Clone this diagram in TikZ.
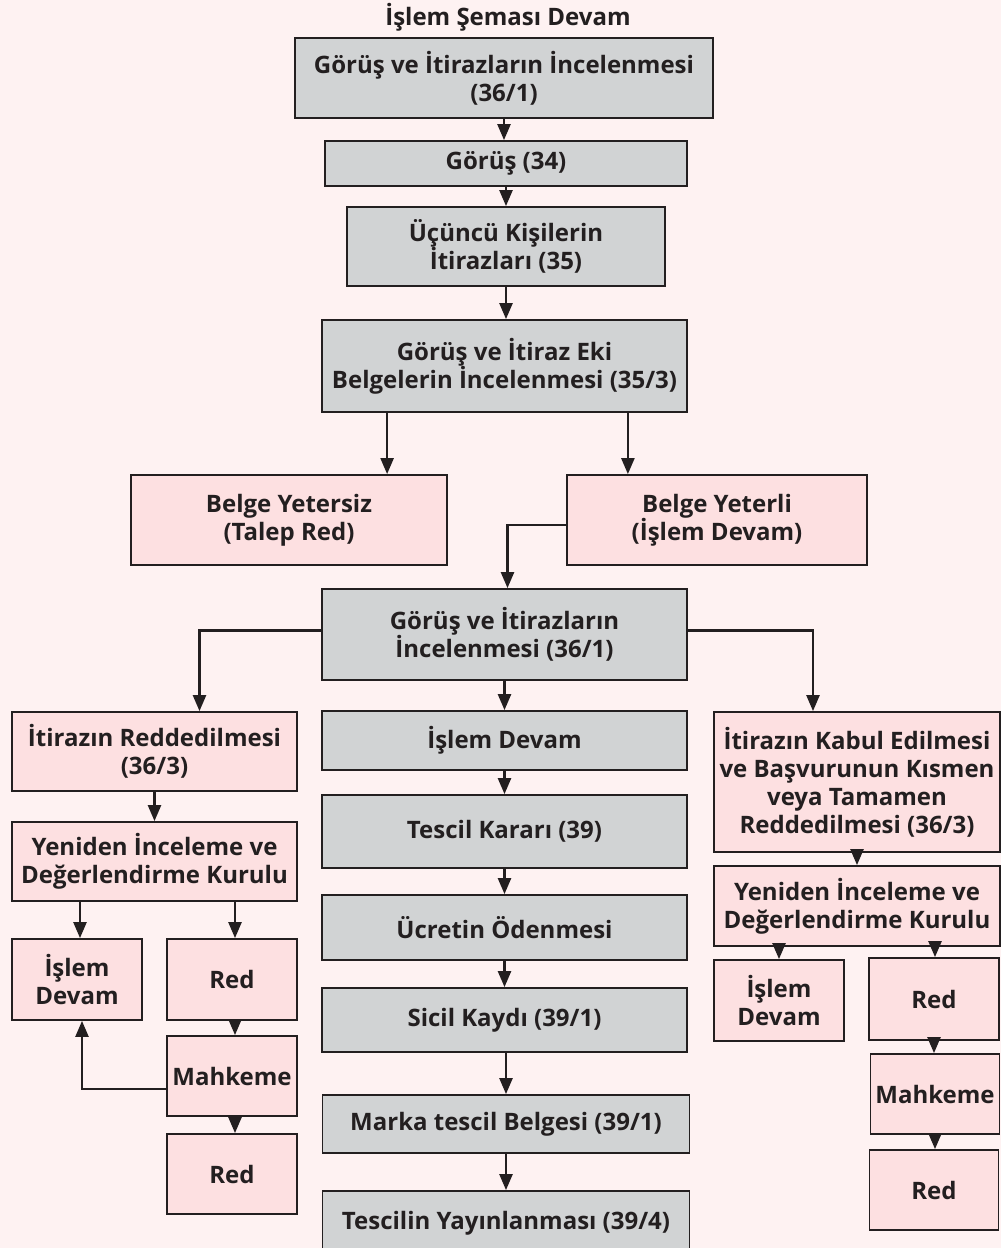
\documentclass[tikz,border=0pt]{standalone}
\usepackage{fontspec}
\setmainfont{Open Sans}
\usepackage{xcolor}
\usetikzlibrary{positioning,arrows.meta}

\definecolor{pagebg}{HTML}{FEF2F2}
\definecolor{boxgray}{HTML}{D1D3D4}
\definecolor{boxpink}{HTML}{FDE0E1}
\definecolor{inkdark}{HTML}{231F20}

\tikzset{
  flowbox/.style={draw=inkdark, line width=1.8pt, text=inkdark, align=center,
    inner sep=0pt, font=\bfseries\fontsize{24}{28}\selectfont},
  graybox/.style={flowbox, fill=boxgray},
  pinkbox/.style={flowbox, fill=boxpink},
  flow/.style={draw=inkdark, line width=2.4pt, -{Triangle[length=16pt,width=13pt]}},
  link/.style={draw=inkdark, line width=2.4pt}
}

\begin{document}
\begin{tikzpicture}[x=1pt,y=-1pt]
\useasboundingbox (0,0) rectangle (1001,1248);
\fill[pagebg] (0,0) rectangle (1001,1248);
\clip (0,0) rectangle (1001,1248);

\node[text=inkdark, font=\bfseries\fontsize{24}{28}\selectfont] (title) at (508,17) {İşlem Şeması Devam};

% middle column
\node[graybox, minimum width=418pt, minimum height=80pt] (inc1) at (504,78) {Görüş ve İtirazların İncelenmesi\\(36/1)};
\node[graybox, minimum width=362pt, minimum height=45pt] (gorus) at (506,163.5) {Görüş (34)};
\node[graybox, minimum width=318pt, minimum height=79pt] (ucuncu) at (506,246.5) {Üçüncü Kişilerin\\İtirazları (35)};
\node[graybox, minimum width=365pt, minimum height=92pt] (belgeinc) at (504.5,366) {Görüş ve İtiraz Eki\\Belgelerin İncelenmesi (35/3)};
\node[pinkbox, minimum width=316pt, minimum height=90pt] (yetersiz) at (289,520) {Belge Yetersiz\\(Talep Red)};
\node[pinkbox, minimum width=300pt, minimum height=90pt] (yeterli) at (717,520) {Belge Yeterli\\(İşlem Devam)};
\node[graybox, minimum width=365pt, minimum height=91pt] (inc2) at (504.5,634.5) {Görüş ve İtirazların\\İncelenmesi (36/1)};
\node[graybox, minimum width=365pt, minimum height=59pt] (devam) at (504.5,740.5) {İşlem Devam};
\node[graybox, minimum width=365pt, minimum height=73pt] (karar) at (504.5,831.5) {Tescil Kararı (39)};
\node[graybox, minimum width=365pt, minimum height=65pt] (ucret) at (504.5,927.5) {Ücretin Ödenmesi};
\node[graybox, minimum width=365pt, minimum height=64pt] (sicil) at (504.5,1020) {Sicil Kaydı (39/1)};
\node[graybox, minimum width=367pt, minimum height=58pt] (belgesi) at (506,1124) {Marka tescil Belgesi (39/1)};
\node[graybox, minimum width=367pt, minimum height=65pt] (yayin) at (506,1223.5) {Tescilin Yayınlanması (39/4)};

% left column
\node[pinkbox, minimum width=285pt, minimum height=79pt] (redL) at (154.5,751.5) {İtirazın Reddedilmesi\\(36/3)};
\node[pinkbox, minimum width=285pt, minimum height=79pt] (kurulL) at (154.5,861.5) {Yeniden İnceleme ve\\Değerlendirme Kurulu};
\node[pinkbox, minimum width=130pt, minimum height=81pt] (devamL) at (77,979.5) {İşlem\\Devam};
\node[pinkbox, minimum width=130pt, minimum height=81pt] (red1L) at (232,979.5) {Red};
\node[pinkbox, minimum width=130pt, minimum height=80pt] (mahkL) at (232,1076) {Mahkeme};
\node[pinkbox, minimum width=130pt, minimum height=80pt] (red2L) at (232,1174) {Red};

% right column
\node[pinkbox, minimum width=286pt, minimum height=140pt] (kabulR) at (857,782) {İtirazın Kabul Edilmesi\\ve Başvurunun Kısmen\\veya Tamamen\\Reddedilmesi (36/3)};
\node[pinkbox, minimum width=286pt, minimum height=80pt] (kurulR) at (857,906) {Yeniden İnceleme ve\\Değerlendirme Kurulu};
\node[pinkbox, minimum width=130pt, minimum height=81pt] (devamR) at (779,1000.5) {İşlem\\Devam};
\node[pinkbox, minimum width=130pt, minimum height=82pt] (red1R) at (934,999) {Red};
\node[pinkbox, minimum width=129pt, minimum height=80pt] (mahkR) at (935,1094) {Mahkeme};
\node[pinkbox, minimum width=129pt, minimum height=80pt] (red2R) at (934,1190) {Red};

% connectors, middle
\draw[flow] (inc1.south) -- (inc1.south |- gorus.north);
\draw[flow] (gorus.south) -- (gorus.south |- ucuncu.north);
\draw[flow] (ucuncu.south) -- (ucuncu.south |- belgeinc.north);
\draw[flow] ([xshift=66pt]belgeinc.south west) -- ([xshift=66pt]belgeinc.south west |- yetersiz.north);
\draw[flow] ([xshift=-60pt]belgeinc.south east) -- ([xshift=-60pt]belgeinc.south east |- yeterli.north);
\draw[flow] ([yshift=-5pt]yeterli.west) -| ([xshift=3pt]inc2.north);
\draw[flow] ([yshift=4pt]inc2.west) -| ([xshift=45pt]redL.north);
\draw[flow] ([yshift=4pt]inc2.east) -| ([xshift=-44pt]kabulR.north);
\draw[flow] (inc2.south) -- (devam.north);
\draw[flow] (devam.south) -- (karar.north);
\draw[flow] (karar.south) -- (ucret.north);
\draw[flow] (ucret.south) -- (sicil.north);
\draw[flow] (sicil.south -| belgesi.north) -- (belgesi.north);
\draw[flow] (belgesi.south) -- (yayin.north);

% connectors, left
\draw[flow] (redL.south) -- (kurulL.north);
\draw[flow] ([xshift=3pt]devamL.north |- kurulL.south) -- ([xshift=3pt]devamL.north);
\draw[flow] ([xshift=3pt]red1L.north |- kurulL.south) -- ([xshift=3pt]red1L.north);
\draw[flow] ([xshift=3pt]red1L.south) -- ([xshift=3pt]mahkL.north);
\draw[flow] ([xshift=3pt]mahkL.south) -- ([xshift=3pt]red2L.north);
\draw[flow] ([yshift=-13pt]mahkL.west) -| ([xshift=5pt]devamL.south);

% connectors, right
\draw[flow] (kabulR.south) -- (kurulR.north);
\draw[flow] (devamR.north |- kurulR.south) -- (devamR.north);
\draw[flow] ([xshift=1pt]red1R.north |- kurulR.south) -- ([xshift=1pt]red1R.north);
\draw[flow] (red1R.south) -- (red1R.south |- mahkR.north);
\draw[flow] (mahkR.south) -- (mahkR.south |- red2R.north);
\end{tikzpicture}
\end{document}
